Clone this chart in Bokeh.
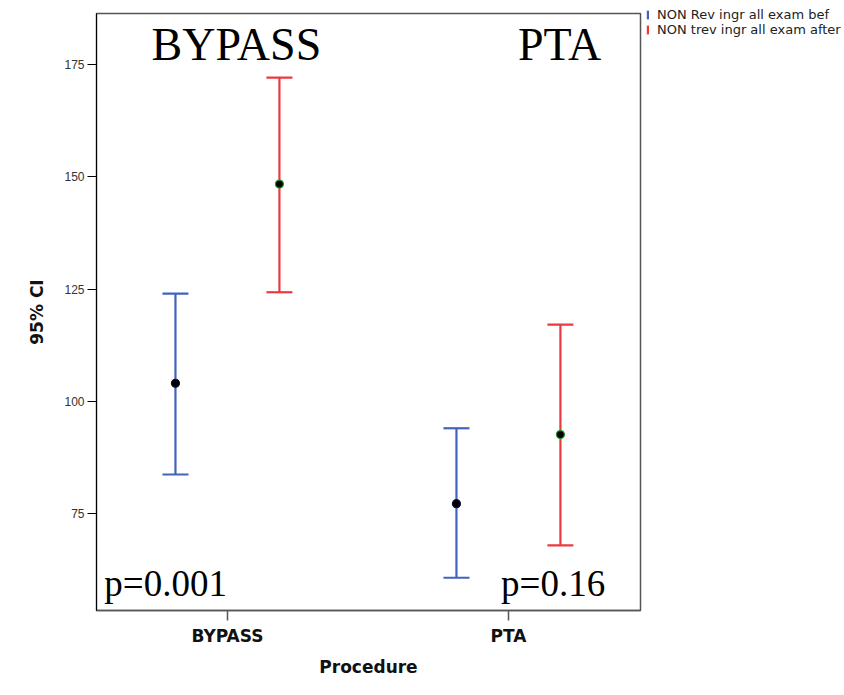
from bokeh.plotting import figure
from bokeh.models import Range1d, FixedTicker, Label, Legend, LegendItem, ColumnDataSource
from bokeh.embed import file_html
from bokeh.resources import INLINE

# ---- data ----
procedures = ["BYPASS", "PTA"]
series_names = ["NON Rev ingr all exam bef", "NON trev ingr all exam after"]
bef_mean = [104.0, 77.2]
bef_lower = [83.7, 60.7]
bef_upper = [124.0, 94.0]
aft_mean = [148.4, 92.6]
aft_lower = [124.3, 67.9]
aft_upper = [172.1, 117.1]
p_values = ["p=0.001", "p=0.16"]
y_ticks = [75, 100, 125, 150, 175]

BLUE = "#4262c0"
RED = "#ea3a40"

cat_pos = [i + 1 for i in range(len(procedures))]
offsets = [-0.185, 0.185]

p = figure(frame_width=544, frame_height=597,
           x_range=Range1d(0.534, 2.47), y_range=Range1d(53.4, 186.4),
           output_backend="svg", toolbar_location=None,
           min_border_left=96, min_border_right=0, min_border_top=13, min_border_bottom=82,
           background_fill_color="white", border_fill_color="white")

p.xgrid.visible = False
p.ygrid.visible = False
p.outline_line_color = "#555555"
p.outline_line_width = 1.5

series = [
    (series_names[0], bef_mean, bef_lower, bef_upper, BLUE, "#101030", offsets[0]),
    (series_names[1], aft_mean, aft_lower, aft_upper, RED, "#1f9a2a", offsets[1]),
]

legend_items = []
for name, mean, lo, hi, color, edge, off in series:
    xs = [c + off for c in cat_pos]
    stem_src = ColumnDataSource(dict(
        x=xs,
        y=[(a + b) / 2 for a, b in zip(lo, hi)],
        h=[b - a for a, b in zip(lo, hi)],
    ))
    stem = p.rect(x="x", y="y", width=2.2, height="h", width_units="screen",
                  source=stem_src, fill_color=color, line_color=None)
    cap_src = ColumnDataSource(dict(x=xs + xs, y=list(lo) + list(hi)))
    p.rect(x="x", y="y", width=26, height=2.2, width_units="screen", height_units="screen",
           source=cap_src, fill_color=color, line_color=None)
    p.scatter(x=xs, y=mean, size=8, fill_color="black", line_color=edge, line_width=1.2)
    legend_items.append(LegendItem(label=name, renderers=[stem]))

legend = Legend(items=legend_items, location=(6, 573),
                label_text_font="DejaVu Sans", label_text_font_size="13px",
                label_text_color="#222222",
                glyph_width=3, glyph_height=11, label_height=14,
                label_standoff=8, spacing=0, padding=0, margin=0,
                border_line_color=None, background_fill_alpha=0)
p.add_layout(legend, "right")

# axes
p.xaxis.ticker = FixedTicker(ticks=cat_pos)
p.xaxis.major_label_overrides = {c: name for c, name in zip(cat_pos, procedures)}
p.yaxis.ticker = FixedTicker(ticks=y_ticks)

p.xaxis.axis_label = "Procedure"
p.yaxis.axis_label = "95% CI"

for ax in (p.xaxis[0], p.yaxis[0]):
    ax.minor_tick_line_color = None
    ax.major_tick_in = 0
    ax.axis_label_text_font = "DejaVu Sans"
    ax.axis_label_text_font_style = "bold"
    ax.axis_label_text_color = "#111111"

p.yaxis.major_tick_out = 9
p.yaxis.major_label_standoff = 3
p.yaxis.major_label_text_font = "Liberation Sans"
p.yaxis.major_label_text_font_size = "12px"
p.yaxis.major_label_text_color = "#333333"
p.yaxis.axis_line_color = "black"
p.yaxis.major_tick_line_color = "black"
p.yaxis.axis_label_text_font_size = "17px"
p.yaxis.axis_label_standoff = 14

p.xaxis.major_tick_out = 10
p.xaxis.major_label_standoff = 5
p.xaxis.major_label_text_font = "DejaVu Sans"
p.xaxis.major_label_text_font_style = "bold"
p.xaxis.major_label_text_font_size = "17px"
p.xaxis.major_label_text_color = "#111111"
p.xaxis.axis_line_color = "#555555"
p.xaxis.axis_line_width = 1.5
p.xaxis.major_tick_line_color = "#555555"
p.xaxis.major_tick_line_width = 1.5
p.xaxis.axis_label_text_font_size = "17px"
p.xaxis.axis_label_standoff = 8

# big annotations
header_x = [1.032, 2.182]
for txt, hx in zip(procedures, header_x):
    p.add_layout(Label(x=hx, y=179.6, text=txt, text_align="center", text_baseline="alphabetic",
                       text_font="Liberation Serif", text_font_size="46px", text_color="black"))

pval_x = [0.780, 2.159]
for txt, px in zip(p_values, pval_x):
    p.add_layout(Label(x=px, y=59.5, text=txt, text_align="center", text_baseline="alphabetic",
                       text_font="Liberation Serif", text_font_size="37px", text_color="black"))

open("out.html", "w").write(file_html(p, INLINE))
